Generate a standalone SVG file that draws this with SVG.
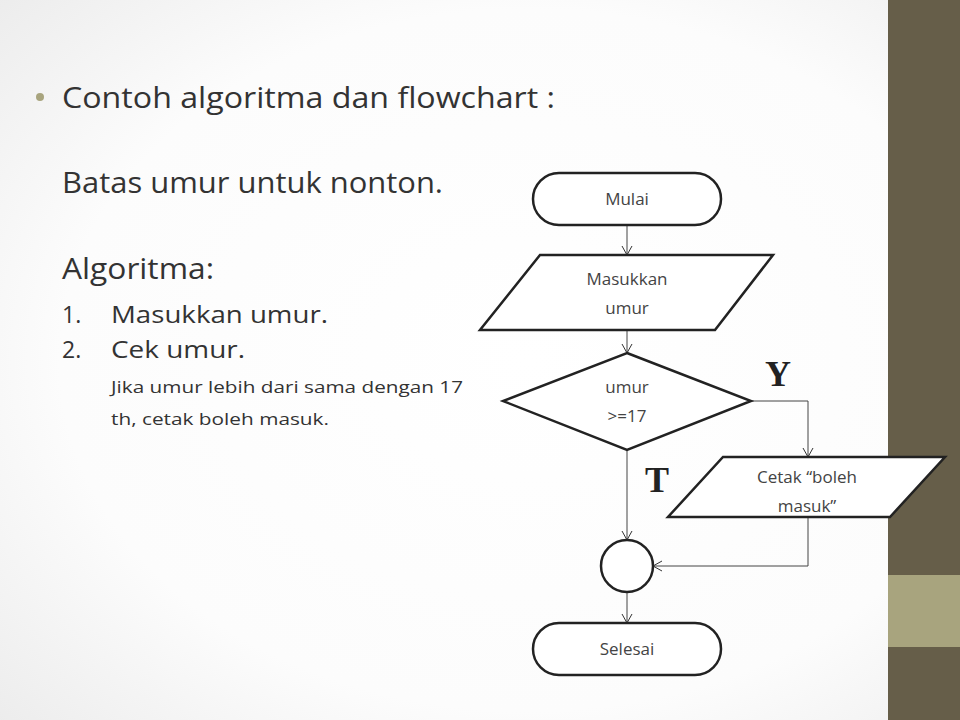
<svg xmlns="http://www.w3.org/2000/svg" width="960" height="720" viewBox="0 0 960 720">
<defs>
<radialGradient id="bg" cx="0.55" cy="0.5" r="0.75"><stop offset="0" stop-color="#ffffff"/><stop offset="0.65" stop-color="#fcfcfc"/><stop offset="1" stop-color="#ececec"/></radialGradient>
<marker id="ar" markerWidth="12" markerHeight="12" refX="10" refY="6" orient="auto" markerUnits="userSpaceOnUse"><path d="M1,1 L10,6 L1,11" fill="none" stroke="#333" stroke-width="1"/></marker>
<style>
.s{fill:#fff;stroke:#222;stroke-width:2.5}
.c{fill:none;stroke:#444;stroke-width:1}
.t{font-family:"Open Sans","Noto Sans",sans-serif;fill:#333}
.f{font-size:17px;text-anchor:middle;fill:#444}
.b{font-family:"Liberation Serif",serif;font-weight:bold;font-size:36px;fill:#222}
</style>
</defs>
<rect width="960" height="720" fill="url(#bg)"/>
<rect x="888" y="0" width="72" height="720" fill="#665e49"/>
<rect x="888" y="575" width="72" height="72" fill="#a8a47e"/>
<g id="text" class="t">
<circle cx="40" cy="97" r="4" fill="#a8a47e"/>
<text x="62" y="108" font-size="30" textLength="493" lengthAdjust="spacingAndGlyphs">Contoh algoritma dan flowchart :</text>
<text x="62" y="193" font-size="30" textLength="381" lengthAdjust="spacingAndGlyphs">Batas umur untuk nonton.</text>
<text x="62" y="279" font-size="30" textLength="152" lengthAdjust="spacingAndGlyphs">Algoritma:</text>
<text x="62" y="323" font-size="23">1.</text><text x="111" y="323" font-size="23" textLength="217" lengthAdjust="spacingAndGlyphs">Masukkan umur.</text>
<text x="62" y="358" font-size="23">2.</text><text x="111" y="358" font-size="23" textLength="134" lengthAdjust="spacingAndGlyphs">Cek umur.</text>
<text x="111" y="393" font-size="17" textLength="352" lengthAdjust="spacingAndGlyphs">Jika umur lebih dari sama dengan 17</text>
<text x="111" y="425" font-size="17" textLength="218" lengthAdjust="spacingAndGlyphs">th, cetak boleh masuk.</text>
</g>
<g id="connectors">
<line class="c" x1="627" y1="225" x2="627" y2="255" marker-end="url(#ar)"/>
<line class="c" x1="627" y1="330" x2="627" y2="353" marker-end="url(#ar)"/>
<polyline class="c" points="751,401 808,401 808,457" marker-end="url(#ar)"/>
<line class="c" x1="627" y1="450" x2="627" y2="540" marker-end="url(#ar)"/>
<polyline class="c" points="808,517 808,566 653,566" marker-end="url(#ar)"/>
<line class="c" x1="627" y1="592" x2="627" y2="623" marker-end="url(#ar)"/>
</g>
<g id="mulai"><rect class="s" x="533" y="173" width="188" height="52" rx="26"/><text class="t f" x="627" y="205">Mulai</text></g>
<g id="input"><polygon class="s" points="540,255 773,255 715,330 480,330"/><text class="t f" x="627" y="285">Masukkan</text><text class="t f" x="627" y="314">umur</text></g>
<g id="decision"><polygon class="s" points="627,353 751,401 627,450 503,401"/><text class="t f" x="627" y="393">umur</text><text class="t f" x="627" y="422">&gt;=17</text></g>
<g id="labels"><text class="b" x="765" y="386">Y</text><text class="b" x="645" y="492">T</text></g>
<g id="cetak"><polygon class="s" points="723,457 945,457 890,517 668,517"/><text class="t f" x="807" y="483">Cetak “boleh</text><text class="t f" x="807" y="512">masuk”</text></g>
<g id="join"><circle class="s" cx="627" cy="566" r="26"/></g>
<g id="selesai"><rect class="s" x="533" y="623" width="188" height="52" rx="26"/><text class="t f" x="627" y="655">Selesai</text></g>
</svg>
